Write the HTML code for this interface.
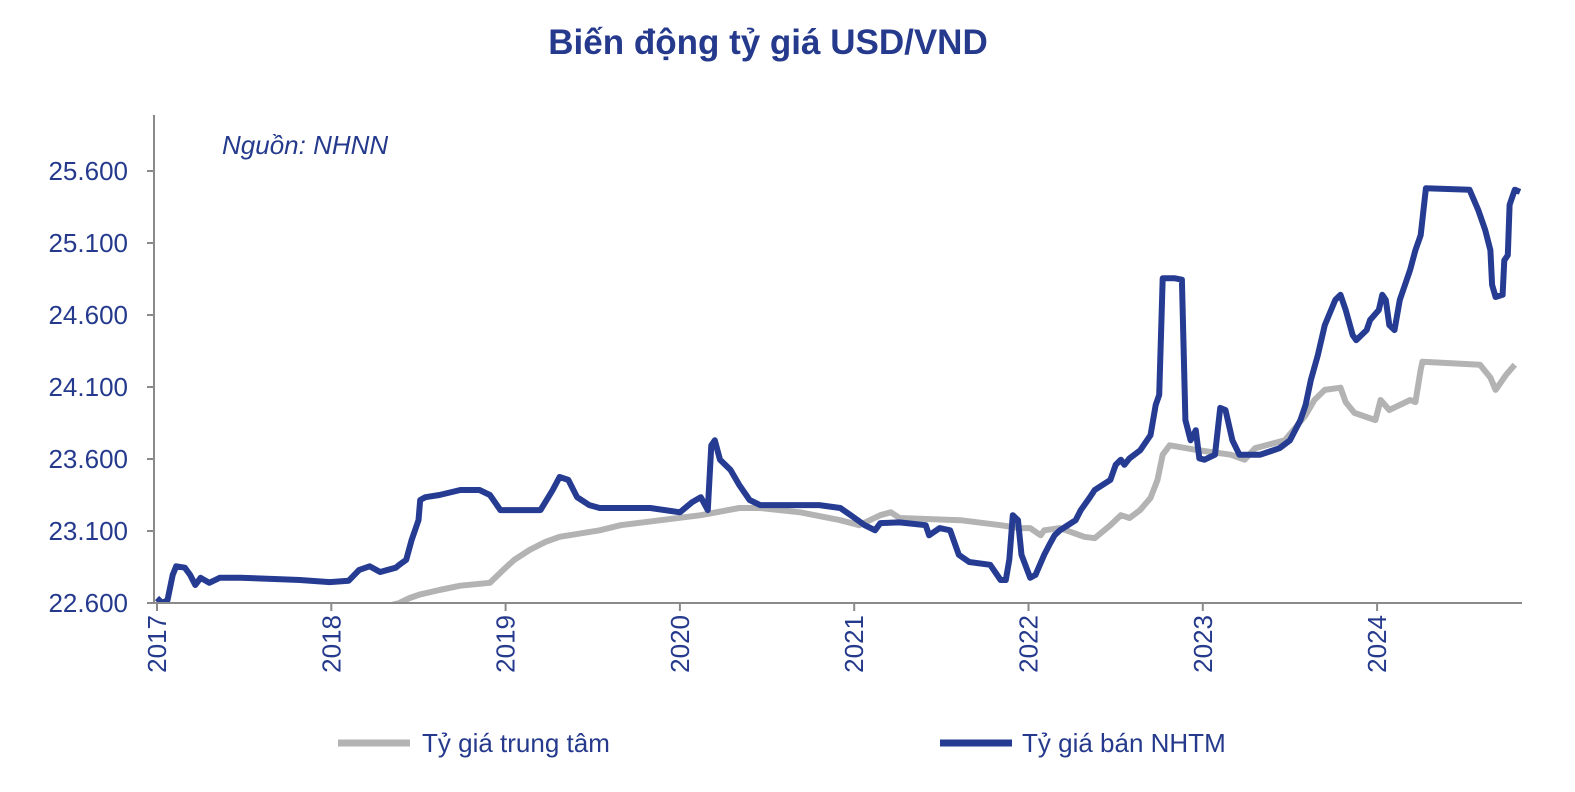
<!DOCTYPE html>
<html><head><meta charset="utf-8"><style>
html,body{margin:0;padding:0;background:#fff;}
svg{display:block;font-family:"Liberation Sans",sans-serif;}
</style></head><body>
<svg id="chart" width="1575" height="792">
<text x="768" y="54" text-anchor="middle" font-size="35" font-weight="bold" fill="#253a8c">Biến động tỷ giá USD/VND</text>
<text x="222" y="154" font-size="26" font-style="italic" fill="#253a8c">Nguồn: NHNN</text>
<g id="axes"></g>
<g id="series"></g>
<g>
<line x1="338" y1="743" x2="410" y2="743" stroke="#b3b3b3" stroke-width="7"/>
<text x="422" y="752" font-size="26" fill="#253a8c">Tỷ giá trung tâm</text>
<line x1="940" y1="743" x2="1012" y2="743" stroke="#263c93" stroke-width="7"/>
<text x="1022" y="752" font-size="26" fill="#253a8c">Tỷ giá bán NHTM</text>
</g>
</svg>
<script>
const yTicks=[22600,23100,23600,24100,24600,25100,25600];
const yTickLabels=["22.600","23.100","23.600","24.100","24.600","25.100","25.600"];
const xTicks=[2017,2018,2019,2020,2021,2022,2023,2024];
const blueDates=[2017.00,2017.03,2017.06,2017.09,2017.11,2017.16,2017.19,2017.22,2017.25,2017.30,2017.36,2017.48,2017.71,2017.82,2017.99,2018.10,2018.16,2018.22,2018.28,2018.37,2018.39,2018.43,2018.46,2018.50,2018.51,2018.54,2018.62,2018.74,2018.85,2018.91,2018.95,2018.97,2019.20,2019.27,2019.31,2019.36,2019.41,2019.48,2019.54,2019.83,2020.00,2020.07,2020.12,2020.16,2020.18,2020.20,2020.23,2020.29,2020.34,2020.40,2020.46,2020.80,2020.92,2020.98,2021.06,2021.12,2021.15,2021.26,2021.41,2021.43,2021.49,2021.55,2021.60,2021.66,2021.78,2021.84,2021.87,2021.89,2021.91,2021.94,2021.96,2022.01,2022.04,2022.09,2022.12,2022.15,2022.18,2022.27,2022.30,2022.35,2022.38,2022.47,2022.50,2022.53,2022.55,2022.58,2022.64,2022.70,2022.73,2022.75,2022.77,2022.84,2022.88,2022.90,2022.93,2022.96,2022.98,2023.01,2023.07,2023.10,2023.13,2023.17,2023.21,2023.33,2023.44,2023.50,2023.56,2023.59,2023.62,2023.66,2023.70,2023.76,2023.79,2023.82,2023.86,2023.88,2023.94,2023.96,2024.01,2024.03,2024.05,2024.07,2024.10,2024.13,2024.16,2024.19,2024.22,2024.25,2024.28,2024.53,2024.58,2024.62,2024.65,2024.66,2024.68,2024.72,2024.73,2024.75,2024.76,2024.79,2024.82];
const blueValues=[22635,22600,22620,22795,22855,22845,22795,22725,22775,22740,22775,22775,22765,22760,22745,22755,22830,22855,22815,22845,22865,22900,23035,23175,23315,23335,23350,23385,23385,23350,23280,23245,23245,23385,23475,23455,23335,23280,23260,23260,23230,23300,23335,23245,23695,23730,23595,23525,23420,23315,23280,23280,23260,23210,23140,23105,23155,23160,23140,23070,23120,23105,22935,22885,22865,22760,22760,22900,23210,23175,22935,22775,22795,22935,23005,23070,23105,23175,23245,23330,23385,23455,23560,23595,23560,23605,23660,23765,23975,24045,24855,24855,24845,23870,23730,23800,23605,23595,23630,23955,23940,23730,23630,23630,23675,23730,23870,23975,24150,24320,24530,24705,24740,24635,24460,24425,24495,24565,24635,24740,24705,24530,24495,24705,24810,24915,25050,25155,25480,25470,25330,25190,25050,24810,24725,24740,24980,25015,25365,25470,25455];
const grayDates=[2018.34,2018.39,2018.45,2018.51,2018.62,2018.74,2018.91,2018.94,2019.00,2019.05,2019.14,2019.23,2019.31,2019.54,2019.66,2019.89,2020.12,2020.34,2020.46,2020.69,2020.92,2021.03,2021.15,2021.21,2021.26,2021.61,2021.84,2021.95,2022.01,2022.07,2022.09,2022.18,2022.32,2022.38,2022.47,2022.53,2022.58,2022.64,2022.70,2022.74,2022.77,2022.81,2022.98,2023.16,2023.24,2023.30,2023.47,2023.53,2023.59,2023.64,2023.70,2023.79,2023.82,2023.87,2023.99,2024.02,2024.07,2024.19,2024.22,2024.25,2024.26,2024.59,2024.65,2024.68,2024.74,2024.79];
const grayValues=[22585,22600,22635,22660,22690,22720,22740,22775,22845,22900,22970,23025,23060,23105,23140,23175,23210,23260,23260,23230,23175,23140,23210,23230,23190,23175,23140,23120,23120,23070,23105,23120,23060,23050,23140,23210,23190,23245,23330,23455,23630,23695,23660,23630,23595,23675,23730,23815,23905,24010,24080,24095,23995,23920,23870,24010,23940,24010,23995,24220,24275,24255,24165,24080,24185,24255];

const NS="http://www.w3.org/2000/svg";
const X0=157,PXY=174.3,Y0=603,PXV=0.144,XEND=1522,YTOP=115;
function xs(t){return X0+(t-2017)*PXY;}
function ys(v){return Y0-(v-22600)*PXV;}
function mk(tag,attrs,parent){const e=document.createElementNS(NS,tag);for(const k in attrs)e.setAttribute(k,attrs[k]);parent.appendChild(e);return e;}
const axes=document.getElementById('axes');
const ya=mk('line',{x1:X0-3,y1:YTOP,x2:X0-3,y2:Y0,stroke:'#8a8a8a','stroke-width':2},axes);


const xa=mk('line',{x1:X0-3,y1:Y0,x2:XEND,y2:Y0,stroke:'#8a8a8a','stroke-width':2},axes);


yTicks.forEach((v,i)=>{
  const y=ys(v);
  const tk=mk('line',{x1:X0-10,y1:y,x2:X0-3,y2:y,stroke:'#8a8a8a','stroke-width':2},axes);
  
  
  const tx=mk('text',{x:128,y:y+9,'text-anchor':'end','font-size':26,fill:'#253a8c'},axes);
  tx.textContent=yTickLabels[i];
  
  
});
xTicks.forEach(t=>{
  const x=xs(t);
  const tk=mk('line',{x1:x,y1:Y0,x2:x,y2:Y0+8,stroke:'#8a8a8a','stroke-width':2},axes);
  
  
  const tx=mk('text',{x:0,y:0,'text-anchor':'end','font-size':26,fill:'#253a8c',transform:`translate(${x+9},${Y0+12}) rotate(-90)`},axes);
  tx.textContent=String(t);
  
  
});
const defs=mk('defs',{},document.getElementById('chart'));
const cp=mk('clipPath',{id:'plotclip'},defs);
mk('rect',{x:X0-2,y:YTOP,width:XEND-X0+10,height:Y0-YTOP-1},cp);
const series=document.getElementById('series');
series.setAttribute('clip-path','url(#plotclip)');
function path(d,v){return d.map((t,i)=>(i?'L':'M')+xs(t).toFixed(1)+','+ys(v[i]).toFixed(1)).join('');}
const g=mk('path',{d:path(grayDates,grayValues),fill:'none',stroke:'#b3b3b3','stroke-width':6,'stroke-linejoin':'round'},series);


const b=mk('path',{d:path(blueDates,blueValues),fill:'none',stroke:'#263c93','stroke-width':6,'stroke-linejoin':'round'},series);


</script>
</body></html>
